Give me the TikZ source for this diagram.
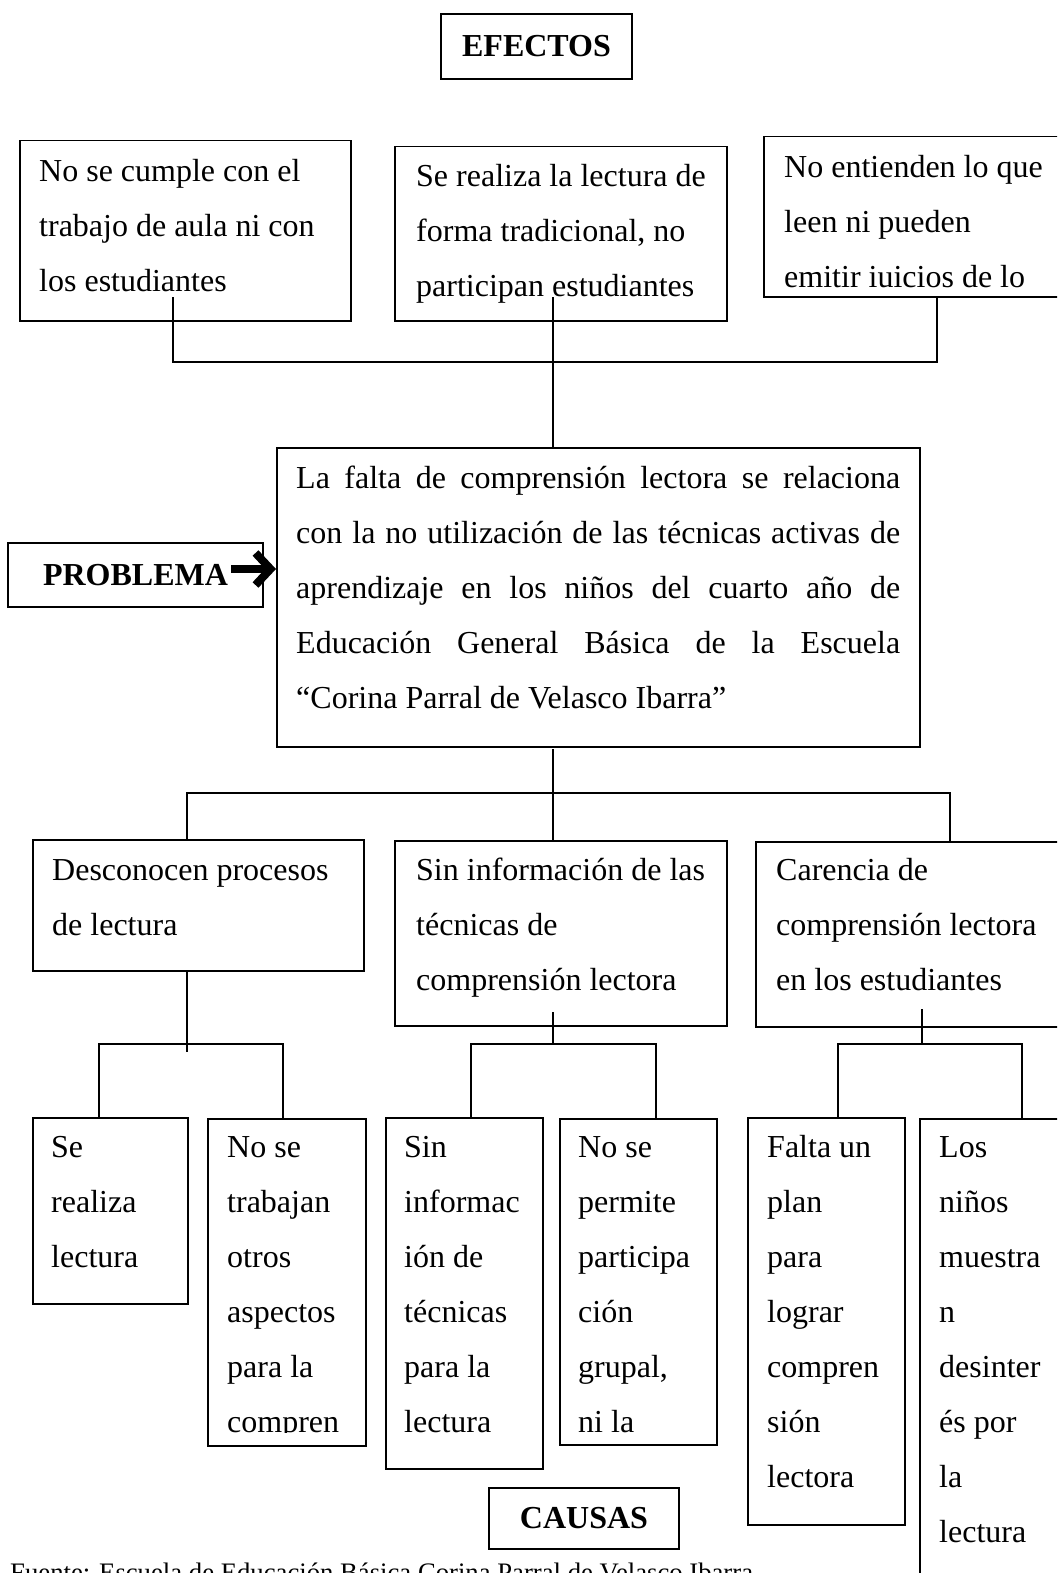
\documentclass[tikz,border=0pt]{standalone}
\usepackage{fontspec}
\setmainfont{Liberation Serif}
\usetikzlibrary{arrows.meta}
\begin{document}
\begin{tikzpicture}[x=1pt,y=-1pt,
  box/.style={draw, line width=1.5pt, inner sep=0pt, anchor=north west},
  lbl/.style={draw, line width=1.5pt, inner sep=0pt, font=\fontsize{32}{38}\selectfont\bfseries},
  txt/.style={anchor=north west, inner sep=0pt, align=left, text width=700pt,
    font=\fontsize{32}{55}\selectfont,
    execute at begin node={\spaceskip=0pt\xspaceskip=0pt\relax}},
  link/.style={line width=1.2pt},
]
\useasboundingbox (0,0) rectangle (1057,1573);
\clip (0,0) rectangle (1057,1573);

% ---------- EFECTOS ----------
\node[lbl, minimum width=191pt, minimum height=65pt] (efectos) at (536.5,46.5) {EFECTOS};

\node[box, minimum width=331pt, minimum height=180pt] (e1) at (19,140) {};
\node[box, minimum width=332pt, minimum height=174pt] (e2) at (394,146) {};
\node[box, minimum width=310pt, minimum height=160pt] (e3) at (763,136) {};

\node[txt] (e1t) at (39,142.5) {\strut No se cumple con el\\trabajo de aula ni con\\los estudiantes};
\node[txt] (e2t) at (416,147.5) {\strut Se realiza la lectura de\\forma tradicional, no\\participan estudiantes};
\node[txt] (e3t) at (784,138.5) {\strut No entienden lo que\\leen ni pueden\\emitir iuicios de lo};

% ---------- PROBLEMA ----------
\node[box, minimum width=643pt, minimum height=299pt] (main) at (276,447) {};
\node[txt] (maint) at (296,449.5) {\strut\makebox[604pt][s]{La falta de comprensión lectora se relaciona}\\
\makebox[604pt][s]{con la no utilización de las técnicas activas de}\\
\makebox[604pt][s]{aprendizaje en los niños del cuarto año de}\\
\makebox[604pt][s]{Educación General Básica de la Escuela}\\
“Corina Parral de Velasco Ibarra”};

\node[lbl, minimum width=255pt, minimum height=64pt] (problema) at (135.5,575) {PROBLEMA};
\coordinate (arrs) at (231,569);
\draw[line width=8pt, -{Straight Barb[length=15pt, width=32pt]}] (arrs) -- (main.west |- arrs);

% effects connectors
\coordinate (e1s) at (173,297);
\coordinate (e2s) at (553,297);
\coordinate (h1) at (173,362);
\coordinate (h3) at (937,362);
\draw[link] (e1s) -- (h1) -- (h3) -- (h3 |- e3.south);
\draw[link] (e2s) -- (e2s |- main.north);

% ---------- CAUSAS level 1 ----------
\node[box, minimum width=331pt, minimum height=131pt] (c1) at (32,839) {};
\node[box, minimum width=332pt, minimum height=185pt] (c2) at (394,840) {};
\node[box, minimum width=315pt, minimum height=185pt] (c3) at (755,841) {};

\node[txt] (c1t) at (52,841.5) {\strut Desconocen procesos\\de lectura};
\node[txt] (c2t) at (416,841.5) {\strut Sin información de las\\técnicas de\\comprensión lectora};
\node[txt] (c3t) at (776,841.5) {\strut Carencia de\\comprensión lectora\\en los estudiantes};

\coordinate (m0) at (553,749);
\coordinate (mL) at (187,793);
\coordinate (mR) at (950,793);
\draw[link] (m0) -- (m0 |- c2.north);
\draw[link] (mL |- c1.north) -- (mL) -- (mR) -- (mR |- c3.north);

% ---------- CAUSAS level 2 ----------
\node[box, minimum width=155pt, minimum height=186pt] (k1) at (32,1117) {};
\node[box, minimum width=158pt, minimum height=327pt] (k2) at (207,1118) {};
\node[box, minimum width=157pt, minimum height=351pt] (k3) at (385,1117) {};
\node[box, minimum width=157pt, minimum height=326pt] (k4) at (559,1118) {};
\node[box, minimum width=157pt, minimum height=407pt] (k5) at (747,1117) {};
\node[box, minimum width=151pt, minimum height=490pt] (k6) at (919,1118) {};

\node[txt] (k1t) at (51,1118.5) {\strut Se\\realiza\\lectura};
\begin{scope}
\clip (207,1118) rectangle (365,1432.5);
\node[txt] (k2t) at (227,1118.5) {\strut No se\\trabajan\\otros\\aspectos\\para la\\compren};
\end{scope}
\node[txt] (k3t) at (404,1118.5) {\strut Sin\\informac\\ión de\\técnicas\\para la\\lectura};
\begin{scope}
\clip (559,1118) rectangle (716,1432.5);
\node[txt] (k4t) at (578,1118.5) {\strut No se\\permite\\participa\\ción\\grupal,\\ni la};
\end{scope}
\node[txt] (k5t) at (767,1118.5) {\strut Falta un\\plan\\para\\lograr\\compren\\sión\\lectora};
\node[txt] (k6t) at (939,1118.5) {\strut Los\\niños\\muestra\\n\\desinter\\és por\\la\\lectura};

\coordinate (l1) at (187,1052);
\coordinate (l2) at (553,1012);
\coordinate (l3) at (922,1009);
\coordinate (a1) at (99,1044);
\coordinate (a2) at (283,1044);
\coordinate (a3) at (471,1044);
\coordinate (a4) at (656,1044);
\coordinate (a5) at (838,1044);
\coordinate (a6) at (1022,1044);
\draw[link] (l1 |- c1.south) -- (l1);
\draw[link] (l2) -- (l2 |- a3);
\draw[link] (l3) -- (l3 |- a5);
\draw[link] (a1 |- k1.north) -- (a1) -- (a2) -- (a2 |- k2.north);
\draw[link] (a3 |- k3.north) -- (a3) -- (a4) -- (a4 |- k4.north);
\draw[link] (a5 |- k5.north) -- (a5) -- (a6) -- (a6 |- k6.north);

% ---------- CAUSAS label and source ----------
\node[lbl, minimum width=190pt, minimum height=61pt] (causas) at (584,1518.5) {CAUSAS};
\node[anchor=base west, inner sep=0pt, font=\fontsize{26.7}{30}\selectfont] (fuente) at (10,1581) {Fuente: Escuela de Educación Básica Corina Parral de Velasco Ibarra};
\end{tikzpicture}
\end{document}
